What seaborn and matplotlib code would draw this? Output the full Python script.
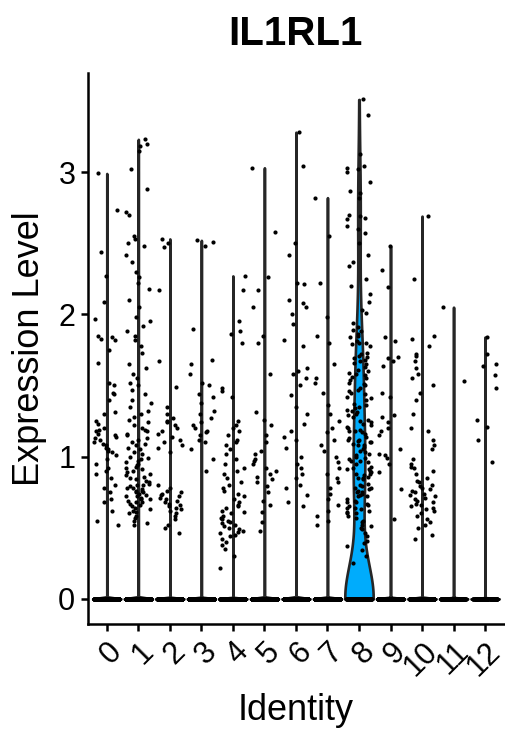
import numpy as np
import pandas as pd
import matplotlib
matplotlib.use("Agg")
import matplotlib.pyplot as plt
import seaborn as sns

# ---------------- data ----------------
clusters = ["0", "1", "2", "3", "4", "5", "6", "7", "8", "9", "10", "11", "12"]
zero_counts = [700, 650, 600, 550, 500, 450, 400, 380, 150, 300, 260, 150, 120]

c0 = [2.99, 2.73, 2.44, 2.27, 2.09, 1.97, 1.85, 1.84, 1.83, 1.82, 1.75, 1.66, 1.52, 1.50,
      1.45, 1.44, 1.40, 1.31, 1.30, 1.25, 1.23, 1.20, 1.19, 1.18, 1.16, 1.15, 1.14, 1.13,
      1.12, 1.10, 1.09, 1.08, 1.06, 1.05, 1.04, 1.03, 1.01, 0.98, 0.95, 0.92, 0.90, 0.88,
      0.85, 0.80, 0.78, 0.75, 0.70, 0.68, 0.62, 0.55, 0.52]
c1 = [3.23, 3.20, 3.18, 3.15, 3.02, 2.88, 2.72, 2.70, 2.55, 2.53, 2.50, 2.48, 2.42, 2.37,
      2.30, 2.26, 2.22, 2.18, 2.10, 2.05, 1.98, 1.95, 1.92, 1.88, 1.85, 1.82, 1.78, 1.73,
      1.65, 1.62, 1.58, 1.55, 1.52, 1.50, 1.47, 1.44, 1.40, 1.38, 1.35, 1.32, 1.30, 1.28,
      1.26, 1.24, 1.22, 1.20, 1.19, 1.18, 1.16, 1.15, 1.13, 1.12, 1.10, 1.09, 1.08, 1.06,
      1.05, 1.03, 1.02, 1.00, 0.99, 0.98, 0.97, 0.96, 0.95, 0.94, 0.93, 0.92, 0.91, 0.90,
      0.89, 0.88, 0.87, 0.86, 0.85, 0.84, 0.83, 0.82, 0.81, 0.80, 0.80, 0.79, 0.78, 0.78,
      0.77, 0.76, 0.76, 0.75, 0.75, 0.74, 0.73, 0.72, 0.72, 0.71, 0.70, 0.70, 0.69, 0.68,
      0.68, 0.67, 0.66, 0.65, 0.64, 0.63, 0.62, 0.61, 0.60, 0.58, 0.57, 0.55, 0.53, 0.52]
c2 = [2.53, 2.50, 2.47, 2.17, 1.67, 1.49, 1.35, 1.30, 1.27, 1.25, 1.24, 1.22, 1.20, 1.18,
      1.16, 1.14, 1.12, 1.10, 1.08, 1.06, 1.03, 0.80, 0.78, 0.76, 0.75, 0.74, 0.73, 0.72,
      0.71, 0.70, 0.69, 0.68, 0.67, 0.66, 0.65, 0.64, 0.63, 0.62, 0.60, 0.58, 0.56, 0.52,
      0.50, 0.46]
c3 = [2.52, 2.51, 2.48, 1.90, 1.68, 1.65, 1.58, 1.52, 1.50, 1.44, 1.42, 1.38, 1.32, 1.30,
      1.27, 1.24, 1.22, 1.20, 1.18, 1.17, 1.15, 1.12, 1.10, 1.05, 0.98, 0.90]
c4 = [2.27, 2.17, 1.95, 1.88, 1.86, 1.80, 1.48, 1.46, 1.42, 1.25, 1.22, 1.20, 1.18, 1.15,
      1.12, 1.10, 1.08, 1.05, 1.02, 0.98, 0.95, 0.92, 0.90, 0.88, 0.85, 0.82, 0.80, 0.78,
      0.76, 0.74, 0.72, 0.70, 0.68, 0.66, 0.65, 0.64, 0.62, 0.61, 0.60, 0.58, 0.57, 0.56,
      0.55, 0.54, 0.53, 0.52, 0.51, 0.50, 0.49, 0.48, 0.47, 0.46, 0.45, 0.44, 0.42, 0.40,
      0.38, 0.35, 0.30, 0.22]
c5 = [3.03, 2.58, 2.26, 2.17, 2.05, 1.85, 1.80, 1.58, 1.31, 1.26, 1.22, 1.15, 1.10, 1.04,
      1.02, 0.98, 0.97, 0.95, 0.92, 0.90, 0.88, 0.86, 0.84, 0.82, 0.79, 0.75, 0.69, 0.66,
      0.61, 0.54, 0.48]
c6 = [3.28, 3.04, 2.50, 2.42, 2.22, 2.21, 2.10, 2.08, 2.05, 2.00, 1.93, 1.82, 1.78, 1.62,
      1.60, 1.58, 1.55, 1.50, 1.43, 1.35, 1.30, 1.23, 1.18, 1.14, 1.12, 1.06, 1.00, 0.95,
      0.92, 0.88, 0.85, 0.80, 0.78, 0.73, 0.68, 0.65]
c7 = [2.82, 2.55, 2.22, 1.98, 1.85, 1.80, 1.65, 1.55, 1.52, 1.45, 1.36, 1.30, 1.25, 1.20,
      1.17, 1.12, 1.08, 1.04, 1.00, 0.96, 0.92, 0.88, 0.85, 0.82, 0.78, 0.74, 0.70, 0.66,
      0.62, 0.58, 0.55, 0.52]
c8 = [3.51, 3.40, 3.13, 3.04, 3.03, 3.02, 3.00, 2.93, 2.87, 2.85, 2.82, 2.70, 2.69, 2.68,
      2.67, 2.62, 2.60, 2.57, 2.50, 2.42, 2.37, 2.34, 2.25, 2.20, 2.14, 2.09, 2.03, 2.01,
      1.94, 1.91, 1.89, 1.88, 1.86, 1.85, 1.84, 1.81, 1.80, 1.80, 1.79, 1.78, 1.73, 1.72,
      1.71, 1.70, 1.69, 1.68, 1.67, 1.66, 1.65, 1.63, 1.61, 1.60, 1.59, 1.58, 1.57, 1.56,
      1.55, 1.54, 1.52, 1.51, 1.50, 1.48, 1.47, 1.46, 1.45, 1.44, 1.42, 1.41, 1.40, 1.37,
      1.36, 1.35, 1.34, 1.33, 1.32, 1.31, 1.30, 1.29, 1.28, 1.26, 1.25, 1.24, 1.23, 1.22,
      1.21, 1.20, 1.19, 1.18, 1.18, 1.17, 1.16, 1.14, 1.13, 1.12, 1.12, 1.11, 1.10, 1.10,
      1.09, 1.08, 1.08, 1.07, 1.05, 1.04, 1.03, 1.02, 1.01, 1.00, 0.99, 0.98, 0.97, 0.97,
      0.96, 0.95, 0.93, 0.92, 0.91, 0.91, 0.90, 0.89, 0.88, 0.88, 0.87, 0.86, 0.85, 0.85,
      0.84, 0.81, 0.80, 0.79, 0.78, 0.78, 0.77, 0.76, 0.75, 0.75, 0.74, 0.73, 0.72, 0.72,
      0.70, 0.69, 0.68, 0.68, 0.67, 0.66, 0.65, 0.64, 0.64, 0.63, 0.62, 0.61, 0.60, 0.60,
      0.58, 0.57, 0.55, 0.54, 0.52, 0.51, 0.50, 0.49, 0.46, 0.44, 0.41, 0.39, 0.37, 0.34,
      0.30, 0.25]
c9 = [2.48, 2.31, 2.19, 1.84, 1.81, 1.70, 1.69, 1.67, 1.64, 1.45, 1.42, 1.29, 1.28, 1.24,
      1.20, 1.18, 1.15, 1.05, 1.02, 1.01, 0.99, 0.95, 0.89, 0.77, 0.56]
c10 = [2.69, 2.25, 1.85, 1.83, 1.78, 1.72, 1.71, 1.67, 1.62, 1.58, 1.55, 1.50, 1.45, 1.40,
       1.30, 1.20, 1.18, 1.12, 1.08, 1.05, 0.98, 0.95, 0.93, 0.92, 0.90, 0.88, 0.85, 0.83,
       0.82, 0.80, 0.79, 0.78, 0.77, 0.76, 0.75, 0.74, 0.73, 0.72, 0.71, 0.70, 0.69, 0.68,
       0.67, 0.66, 0.65, 0.64, 0.63, 0.62, 0.60, 0.58, 0.56, 0.54, 0.52, 0.50, 0.45, 0.42]
c11 = [2.05, 1.53]
c12 = [1.84, 1.72, 1.65, 1.64, 1.57, 1.48, 1.26, 1.21, 1.12, 0.96]
nonzero_values = [c0, c1, c2, c3, c4, c5, c6, c7, c8, c9, c10, c11, c12]

palette = ["#F8766D", "#E18A00", "#BE9C00", "#8CAB00", "#24B700", "#00BE70", "#00C1AB",
           "#00BBDA", "#00ACFC", "#8B93FF", "#D575FE", "#F962DD", "#FF65AC"]

rows = []
for cl, nz, vals in zip(clusters, zero_counts, nonzero_values):
    rows += [(cl, 0.0)] * nz
    rows += [(cl, v) for v in vals]
df = pd.DataFrame(rows, columns=["Identity", "Expression"])


def bw_nrd0(kde):
    # R's bw.nrd0 (as used by ggplot2 geom_violin), returned as a factor of the data sd
    x = np.asarray(kde.dataset).ravel()
    n = x.size
    sd = x.std(ddof=1)
    q75, q25 = np.percentile(x, [75, 25])
    lo = min(sd, (q75 - q25) / 1.34)
    bw = 0.9 * lo * n ** -0.2 if lo > 0 else 1e-3
    return bw / sd


# ---------------- plot ----------------
sns.set_style("white")
plt.rcParams["font.family"] = ["Liberation Sans", "DejaVu Sans"]
plt.rcParams["text.color"] = "black"
plt.rcParams["axes.labelcolor"] = "black"

fig = plt.figure(figsize=(5.05, 7.34), dpi=100)
ax = fig.add_axes([0.174, 0.150, 0.824, 0.7505])

sns.violinplot(data=df, x="Identity", y="Expression", hue="Identity", order=clusters,
               hue_order=clusters, palette=palette, saturation=1, legend=False,
               density_norm="width", cut=0, inner=None, width=0.9,
               bw_method=bw_nrd0, gridsize=200, linewidth=1.9, linecolor="#262626", ax=ax)
sns.stripplot(data=df, x="Identity", y="Expression", order=clusters, color="black",
              size=3.0, jitter=0.4, linewidth=0, ax=ax)

ax.set_xlim(-0.6, 12.6)
ax.set_ylim(-0.176, 3.696)
ax.set_yticks([0, 1, 2, 3])
ax.set_yticklabels(["0", "1", "2", "3"])

for s in ["top", "right"]:
    ax.spines[s].set_visible(False)
for s in ["left", "bottom"]:
    ax.spines[s].set_linewidth(1.8)
    ax.spines[s].set_color("black")
ax.tick_params(axis="both", length=5, width=1.8, color="black", labelsize=22,
               labelcolor="black", pad=4)
ax.tick_params(axis="both", which="both", bottom=True, left=True)
for lab in ax.get_xticklabels():
    lab.set_rotation(45)
    lab.set_ha("right")
    lab.set_va("top")
    lab.set_rotation_mode("anchor")

ax.set_xlabel("Identity", fontsize=26, labelpad=8, color="black")
ax.set_ylabel("Expression Level", fontsize=26, labelpad=8, color="black")
ax.set_title("IL1RL1", fontsize=29, fontweight="bold", pad=20, color="black")

fig.savefig("out.png", dpi=100)
